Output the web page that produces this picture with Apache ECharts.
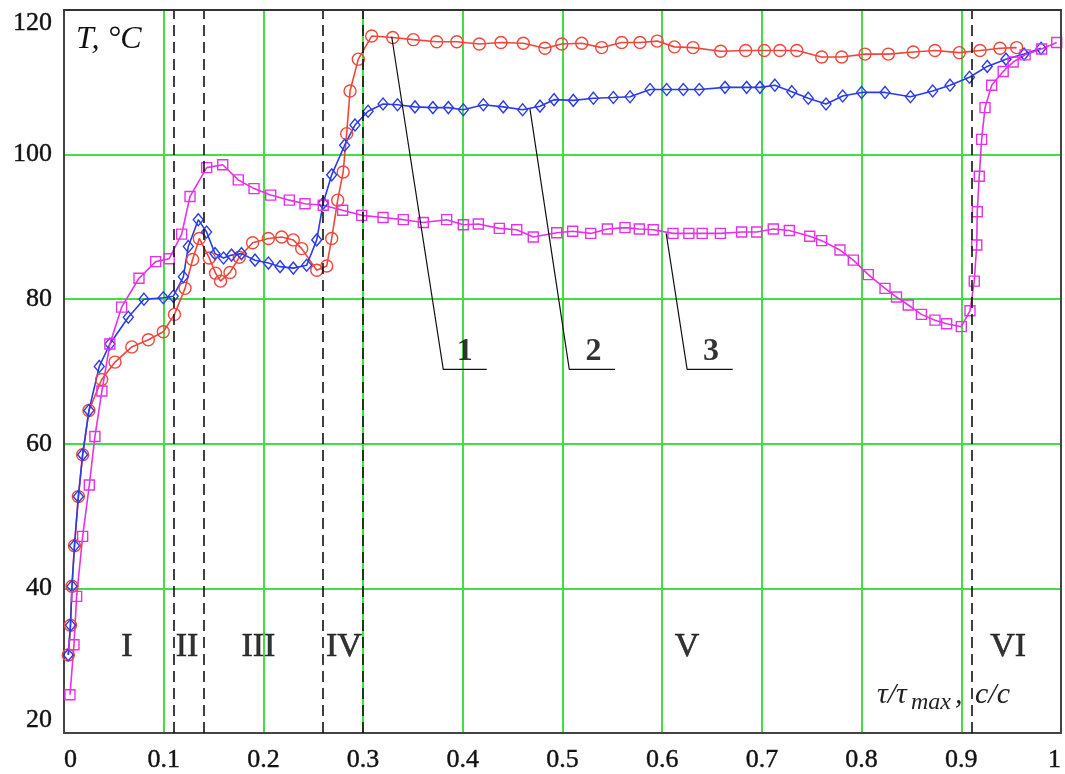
<!DOCTYPE html>
<html>
<head>
<meta charset="utf-8">
<script src="https://cdn.jsdelivr.net/npm/echarts@6/dist/echarts.min.js"></script>
<style>
html,body{margin:0;padding:0;background:#fff;}
#chart{width:1065px;height:774px;}
</style>
</head>
<body>
<div id="chart"></div>
<script>
// ---------- data ----------
const xTicks = [0, 0.1, 0.2, 0.3, 0.4, 0.5, 0.6, 0.7, 0.8, 0.9, 1];
const yTicks = [20, 40, 60, 80, 100, 120];

const redX = [0.0043,0.0065,0.0080,0.0105,0.0144,0.0187,0.0250,0.0378,0.0512,0.0680,0.0846,0.0996,0.1108,0.1214,0.1290,0.1357,0.1457,0.1520,0.1570,0.1665,0.1758,0.1892,0.2050,0.2183,0.2300,0.2384,0.2535,0.2635,0.2685,0.2745,0.2800,0.2835,0.2869,0.2952,0.3086,0.3297,0.3504,0.3738,0.3940,0.4166,0.4383,0.4607,0.4824,0.4992,0.5193,0.5393,0.5594,0.5777,0.5950,0.6123,0.6309,0.6587,0.6837,0.7024,0.7180,0.7350,0.7600,0.7800,0.8034,0.8268,0.8518,0.8736,0.8980,0.9188,0.9388,0.9555];
const redY = [30.8,34.9,40.3,45.9,52.7,58.5,64.6,68.9,71.3,73.4,74.4,75.5,77.9,81.5,85.5,88.4,85.7,83.6,82.5,83.7,85.8,87.8,88.4,88.6,88.2,87.0,84.0,84.6,88.4,93.7,97.6,102.9,108.8,113.2,116.4,116.2,115.9,115.6,115.6,115.3,115.5,115.4,114.7,115.3,115.4,114.8,115.5,115.5,115.7,114.9,114.8,114.3,114.4,114.4,114.4,114.4,113.5,113.5,113.9,113.9,114.2,114.4,114.1,114.4,114.7,114.8];

const blueX = [0.0043,0.0065,0.0080,0.0105,0.0144,0.0187,0.0250,0.0354,0.0460,0.0645,0.0802,0.0996,0.1096,0.1197,0.1247,0.1347,0.1430,0.1515,0.1600,0.1680,0.1780,0.1916,0.2050,0.2167,0.2300,0.2434,0.2535,0.2600,0.2685,0.2815,0.2919,0.3050,0.3200,0.3345,0.3520,0.3700,0.3855,0.4005,0.4206,0.4406,0.4600,0.4774,0.4915,0.5108,0.5310,0.5510,0.5677,0.5878,0.6045,0.6212,0.6372,0.6630,0.6847,0.6980,0.7130,0.7300,0.7465,0.7643,0.7810,0.8000,0.8235,0.8490,0.8713,0.8887,0.9082,0.9260,0.9448,0.9630,0.9800];
const blueY = [30.8,34.9,40.3,45.9,52.7,58.5,64.6,70.7,73.8,77.5,80.0,80.2,80.4,83.1,87.3,91.0,89.3,86.3,85.7,86.1,86.3,85.4,85.0,84.5,84.3,84.7,88.2,93.3,97.2,101.3,104.1,106.0,107.0,106.9,106.6,106.5,106.5,106.2,106.9,106.6,106.2,106.7,107.6,107.5,107.8,107.9,108.0,109.0,109.0,109.0,109.0,109.3,109.3,109.3,109.6,108.7,107.8,107.0,108.1,108.6,108.6,108.0,108.8,109.6,110.7,112.2,113.2,113.9,114.7];

const magX = [0.0060,0.0100,0.0127,0.0187,0.0254,0.0310,0.0380,0.0460,0.0578,0.0752,0.0920,0.1055,0.1180,0.1264,0.1431,0.1592,0.1748,0.1906,0.2073,0.2260,0.2417,0.2600,0.2795,0.2986,0.3200,0.3403,0.3604,0.3838,0.4005,0.4156,0.4366,0.4541,0.4707,0.4942,0.5102,0.5283,0.5450,0.5627,0.5770,0.5910,0.6108,0.6267,0.6401,0.6584,0.6797,0.6948,0.7114,0.7275,0.7480,0.7600,0.7783,0.7917,0.8067,0.8235,0.8350,0.8468,0.8600,0.8736,0.8853,0.9000,0.9087,0.9130,0.9155,0.9160,0.9180,0.9204,0.9238,0.9305,0.9420,0.9520,0.9640,0.9806,0.9957];
const magY = [25.3,32.2,38.9,47.2,54.3,61.0,67.3,73.8,78.9,82.9,85.2,85.6,89.0,94.2,98.2,98.6,96.5,95.3,94.4,93.7,93.2,93.0,92.3,91.6,91.3,91.0,90.6,91.0,90.3,90.4,89.8,89.6,88.6,89.2,89.4,89.1,89.7,89.9,89.7,89.6,89.1,89.1,89.1,89.1,89.3,89.3,89.7,89.5,88.7,88.1,86.8,85.4,83.4,81.5,80.3,79.2,77.9,77.1,76.6,76.2,78.4,82.5,87.5,92.1,97.0,102.1,106.5,109.6,111.5,112.8,113.8,114.6,115.5];

// stage boundaries (dashed) and stage labels
const stageBounds = [0.1096, 0.1381, 0.2585, 0.3009, 0.9054];
const stageNames = ['I', 'II', 'III', 'IV', 'V', 'VI'];
const stageX = [0.0632, 0.1234, 0.195, 0.2808, 0.625, 0.947];
const stageY = 31.9;

// curve callouts: leader from curve point, down to kink, then underline
const calloutNames = ['1', '2', '3'];
const calloutStartX = [0.3287, 0.4674, 0.604];
const calloutStartY = [116.3, 106.3, 89.1];
const calloutKinkX = [0.3804, 0.5068, 0.625];
const calloutEndX = [0.424, 0.5527, 0.6707];
const calloutLineY = 70.3;
const calloutLabelX = [0.402, 0.531, 0.649];
const calloutLabelY = 72.8;

// ---------- chart ----------
const SERIF = '"Liberation Serif","Times New Roman",serif';
const RED = '#f0463c', BLUE = '#2a3ce6', MAG = '#e632e6';
const zip = (xs, ys) => xs.map((x, i) => [x, ys[i]]);

function curve(name, xs, ys, color, symbol, size) {
  return {
    name, type: 'line', data: zip(xs, ys), symbol, symbolSize: size,
    showAllSymbol: true,
    lineStyle: { color, width: 1.6 },
    itemStyle: { color: 'rgba(0,0,0,0)', borderColor: color, borderWidth: 1.4 },
    emphasis: { disabled: true }, z: 3
  };
}

const series = [];
series.push(Object.assign(curve('1', redX, redY, RED, 'circle', 12), {
  markLine: {
    silent: true, symbol: ['none', 'none'], label: { show: false },
    lineStyle: { type: [11, 6], color: '#111', width: 1.6 },
    data: stageBounds.map(v => ({ xAxis: v }))
  }
}));
series.push(curve('2', blueX, blueY, BLUE, 'diamond', [10, 12]));
series.push(curve('3', magX, magY, MAG, 'rect', 10));

calloutNames.forEach((n, i) => {
  series.push({
    type: 'line', symbol: 'none', silent: true, z: 4,
    lineStyle: { color: '#111', width: 1.2 },
    data: [[calloutStartX[i], calloutStartY[i]], [calloutKinkX[i], calloutLineY], [calloutEndX[i], calloutLineY]]
  });
});

series.push({
  type: 'scatter', symbolSize: 0, silent: true, z: 5,
  data: calloutNames.map((n, i) => ({ name: n, value: [calloutLabelX[i], calloutLabelY] })),
  label: { show: true, position: 'inside', formatter: '{b}', fontFamily: SERIF, fontWeight: 'bold', fontSize: 32, color: '#000' }
});
series.push({
  type: 'scatter', symbolSize: 0, silent: true, z: 5,
  data: stageNames.map((n, i) => ({ name: n, value: [stageX[i], stageY] })),
  label: { show: true, position: 'inside', formatter: '{b}', fontFamily: SERIF, fontSize: 34, color: '#000',
    textBorderColor: '#000', textBorderWidth: 0.6 }
});

const chart = echarts.init(document.getElementById('chart'));
chart.setOption({
  animation: false,
  backgroundColor: '#fff',
  grid: { left: 64, right: 4, top: 10, bottom: 41 },
  xAxis: [{
    type: 'value', min: xTicks[0], max: xTicks[xTicks.length - 1], interval: 0.1,
    axisLine: { show: true, lineStyle: { color: '#444', width: 2 } },
    axisTick: { show: false },
    splitLine: { show: true, lineStyle: { color: '#46dc46', width: 2 } },
    axisLabel: { fontFamily: SERIF, fontSize: 26, color: '#111', margin: 14,
      textBorderColor: '#111', textBorderWidth: 0.4,
      alignMinLabel: 'left', alignMaxLabel: 'right' }
  }, {
    type: 'value', position: 'top', min: 0, max: 1, z: 6,
    axisLine: { show: true, onZero: false, lineStyle: { color: '#333', width: 2 } },
    axisTick: { show: false }, axisLabel: { show: false }, splitLine: { show: false }
  }],
  yAxis: [{
    type: 'value', min: yTicks[0], max: yTicks[yTicks.length - 1], interval: 20,
    axisLine: { show: true, lineStyle: { color: '#444', width: 2 } },
    axisTick: { show: false },
    splitLine: { show: true, lineStyle: { color: '#46dc46', width: 2 } },
    axisLabel: { fontFamily: SERIF, fontSize: 26, color: '#111', margin: 12,
      textBorderColor: '#111', textBorderWidth: 0.4,
      verticalAlignMinLabel: 'bottom', verticalAlignMaxLabel: 'top' }
  }, {
    type: 'value', position: 'right', min: 20, max: 120, z: 6,
    axisLine: { show: true, onZero: false, lineStyle: { color: '#444', width: 2 } },
    axisTick: { show: false }, axisLabel: { show: false }, splitLine: { show: false }
  }],
  graphic: [
    { type: 'text', x: 76, y: 24, z: 10, style: { text: 'T, °C', font: 'italic 32px ' + SERIF, fill: '#111', verticalAlign: 'top' } },
    { type: 'text', x: 877, y: 710, z: 10, style: { text: 'τ/τ', font: 'italic 30px ' + SERIF, fill: '#222', verticalAlign: 'bottom' } },
    { type: 'text', x: 911, y: 715, z: 10, style: { text: 'max', font: 'italic 24px ' + SERIF, fill: '#222', verticalAlign: 'bottom' } },
    { type: 'text', x: 955, y: 710, z: 10, style: { text: ',', font: 'italic 30px ' + SERIF, fill: '#222', verticalAlign: 'bottom' } },
    { type: 'text', x: 975, y: 710, z: 10, style: { text: 'c/c', font: 'italic 30px ' + SERIF, fill: '#222', verticalAlign: 'bottom' } }
  ],
  series
});
</script>
</body>
</html>
